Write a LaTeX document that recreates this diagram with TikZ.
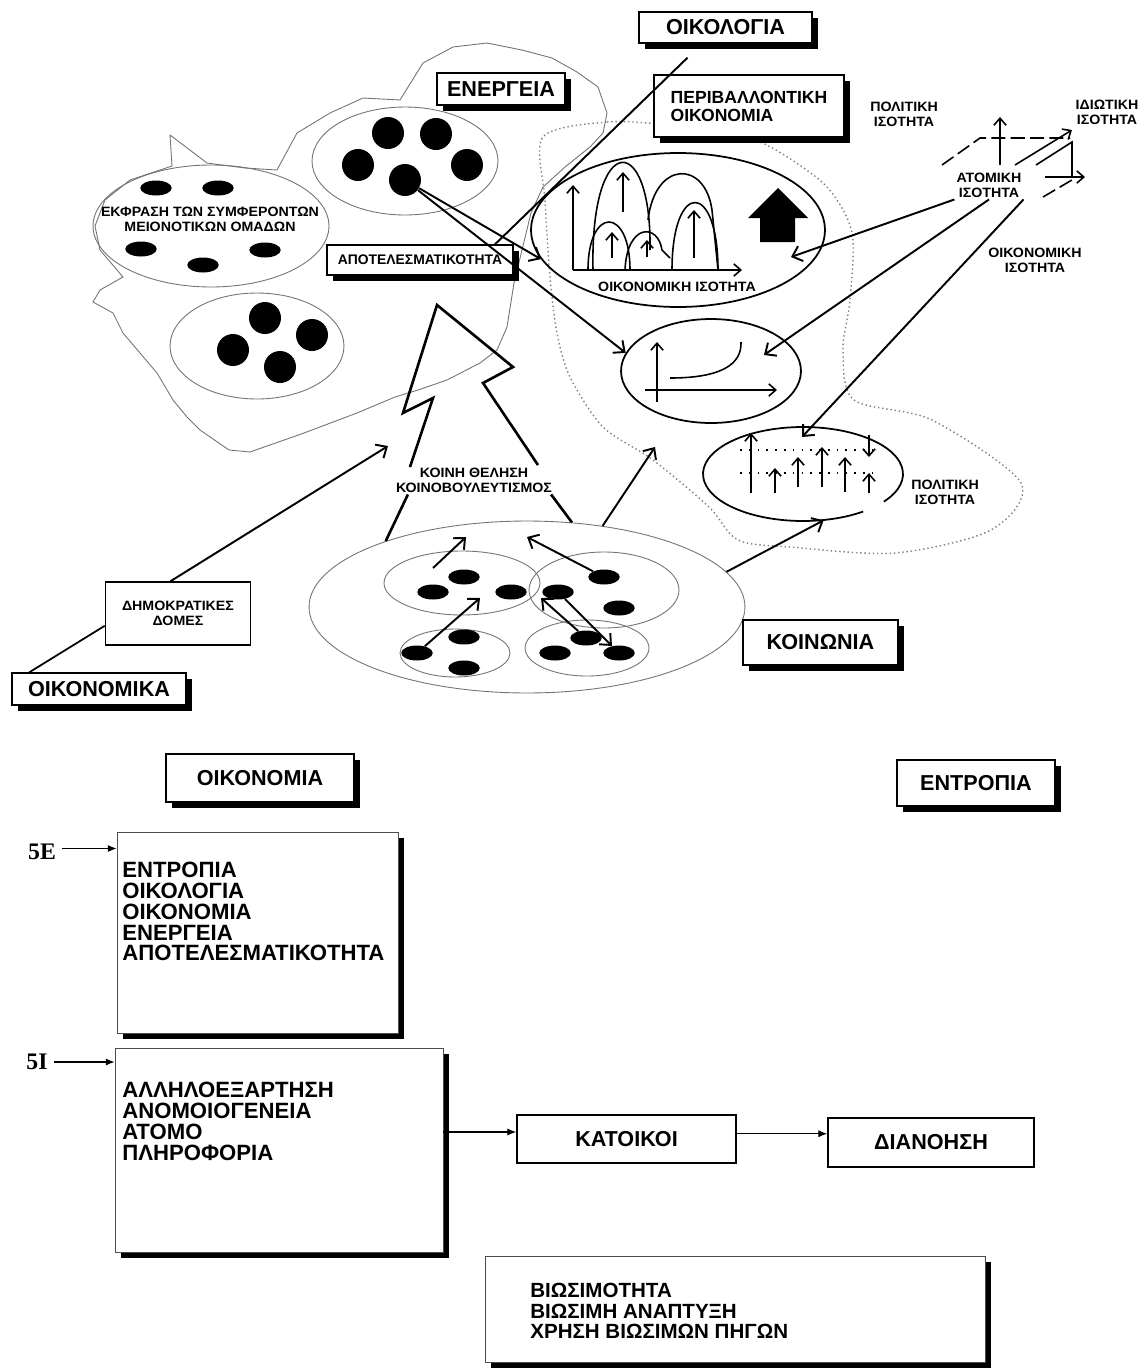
\documentclass[tikz,border=0pt]{standalone}
\usepackage{fontspec}
\setmainfont{Liberation Sans}
\newfontfamily\widefont[FakeStretch=1.05]{Liberation Sans}
\newfontfamily\labelfont{Liberation Serif}
\usetikzlibrary{shapes.geometric, shadows, arrows.meta}
\tikzset{
  shadowbox/.style={draw, line width=0.8pt, fill=white, inner sep=0pt,
    drop shadow={shadow xshift=3.2pt, shadow yshift=-3.2pt, fill=black, opacity=1}},
  plainbox/.style={draw, line width=0.9pt, fill=white, inner sep=0pt},
  listbox/.style={draw=black!70, line width=0.5pt, fill=white, inner sep=0pt,
    drop shadow={shadow xshift=3.5pt, shadow yshift=-3.5pt, fill=black, opacity=1}},
  boxtext/.style={font=\bfseries\fontsize{12.3}{14}\selectfont},
  listtext/.style={font=\bfseries\fontsize{12.6}{11.8}\selectfont, align=left, inner sep=0pt},
  smalltext/.style={font=\widefont\bfseries\fontsize{7.7}{8.6}\selectfont, align=center, inner sep=1pt},
  greyell/.style={ellipse, draw=black!55, line width=0.5pt, inner sep=0pt},
  blackell/.style={ellipse, draw, line width=1pt, inner sep=0pt},
  bigdot/.style={circle, fill, inner sep=0pt, minimum size=0.64cm},
  flatdot/.style={ellipse, fill, inner sep=0pt, minimum width=0.63cm, minimum height=0.3cm},
  thickarrow/.style={line width=1.1pt, -{Straight Barb[length=5pt, width=9pt]}},
  pictarrow/.style={line width=0.9pt, -{Straight Barb[length=4pt, width=7pt]}},
  thinarrow/.style={line width=0.6pt, -{Latex[length=5pt, width=4pt]}},
  pictline/.style={line width=0.9pt}
}

\begin{document}
\begin{tikzpicture}[x=0.02cm, y=-0.02cm]
  \fill[white] (0,0) rectangle (1143,1370);
  \useasboundingbox (0,0) rectangle (1143,1370);

  % outlines of the two regions
  \draw[black!55, line width=0.5pt] plot coordinates {(172,166) (170,135) (207,163) (245,168) (277,170)
    (297,133) (330,113) (363,98) (400,100) (423,63) (453,47) (487,43) (522,50) (552,58) (577,72)
    (598,87) (607,113) (603,133) (590,147) (565,167) (543,187) (531,213) (522,250) (514,283)
    (507,327) (497,350) (480,363) (447,380) (418,390) (395,397) (357,413) (304,433) (250,452)
    (229,450) (200,430) (187,417) (173,400) (157,373) (140,353) (123,333) (113,313) (93,302)
    (100,290) (123,277) (100,250) (95,226) (105,200) (130,180)} -- cycle;
  \draw[black!50, line width=0.8pt, dash pattern=on 0.8pt off 1.6pt] plot[smooth cycle, tension=0.5]
    coordinates {(543,137) (607,122) (670,125) (734,133) (776,150) (827,187) (852,233) (850,300)
    (843,350) (854,400) (932,420) (1021,483) (991,530) (895,553) (790,547) (738,540) (709,507)
    (653,460) (603,427) (570,377) (557,333) (550,277) (545,200)};

  % energy cluster
  \node[greyell, minimum width=3.72cm, minimum height=2.16cm] (enell) at (405,161) {};
  \node[greyell, minimum width=4.72cm, minimum height=2.44cm] (ekfell) at (211,226) {};
  \node[greyell, minimum width=3.48cm, minimum height=2.12cm] (grpell) at (257,346) {};
  \foreach \x/\y [count=\i] in {388/133, 436/134, 358/165, 467/165, 405/180}
    \node[bigdot] (en\i) at (\x,\y) {};
  \foreach \x/\y [count=\i] in {156/188, 218/188, 141/249, 265/250, 203/265}
    \node[flatdot] (ek\i) at (\x,\y) {};
  \foreach \x/\y [count=\i] in {265/318, 312/335, 233/350, 280/367}
    \node[bigdot] (gr\i) at (\x,\y) {};
  \node[smalltext] (ekftext) at (210,219) {ΕΚΦΡΑΣΗ ΤΩΝ ΣΥΜΦΕΡΟΝΤΩΝ\\ΜΕΙΟΝΟΤΙΚΩΝ ΟΜΑΔΩΝ};

  % equality ellipses
  \node[blackell, minimum width=5.88cm, minimum height=3.08cm] (econell) at (678,230) {};
  \node[blackell, minimum width=3.6cm, minimum height=2.08cm] (curveell) at (711,371) {};
  \node[ellipse, inner sep=0pt, minimum width=4cm, minimum height=1.88cm] (polell) at (803,474) {};
  \draw[line width=1pt] (polell.center) ++(-36:2cm and 0.94cm)
    arc[start angle=-36, end angle=307, x radius=2cm, y radius=0.94cm];

  \draw[pictarrow] (573,270) -- (573,185);
  \draw[pictarrow] (573,270) -- (742,270);
  \draw[pictline] (593,270) .. controls (590,130) and (652,130) .. (650,250);
  \draw[pictline] (588,270) .. controls (588,206) and (630,206) .. (630,270);
  \draw[pictline] (625,270) .. controls (627,223) and (658,223) .. (662,250) -- (670,258);
  \draw[pictline] (648,220) .. controls (655,160) and (705,160) .. (712,210) -- (718,270);
  \draw[pictline] (672,270) .. controls (672,180) and (718,180) .. (718,270);
  \draw[pictarrow] (623,212) -- (623,172);
  \draw[pictarrow] (612,258) -- (612,232);
  \draw[pictarrow] (647,257) -- (647,240);
  \draw[pictarrow] (694,258) -- (694,210);
  \fill (778,188) -- (808,218) -- (795,218) -- (795,242) -- (760,242) -- (760,218) -- (748,218) -- cycle;
  \node[smalltext] (econlab) at (677,287) {ΟΙΚΟΝΟΜΙΚΗ ΙΣΟΤΗΤΑ};

  \draw[pictarrow] (657,402) -- (657,342);
  \draw[pictarrow] (645,390) -- (777,390);
  \draw[pictline] (670,378) .. controls (720,378) and (742,365) .. (741,342);

  \draw[line width=1pt, dash pattern=on 1pt off 4pt] (740,450) -- (872,450);
  \draw[line width=1pt, dash pattern=on 1pt off 4pt] (740,473) -- (872,473);
  \foreach \x/\a/\b in {751/493/433, 775/493/468, 798/487/457, 822/487/447, 845/492/457, 869/493/473, 869/435/457}
    \draw[pictarrow] (\x,\a) -- (\x,\b);

  % individual equality axes
  \draw[pictarrow] (1000,165) -- (1000,117);
  \draw[pictline, dash pattern=on 8pt off 3pt] (942,165) -- (980,138) -- (1070,138);
  \draw[pictarrow] (1015,165) -- (1072,130);
  \draw[pictline] (1036,165) -- (1072,142) -- (1072,177);
  \draw[pictarrow] (1045,177) -- (1085,177);
  \draw[pictline, dash pattern=on 8pt off 3pt] (1043,197) -- (1077,177);

  \node[smalltext] (polittop) at (904,114) {ΠΟΛΙΤΙΚΗ\\ΙΣΟΤΗΤΑ};
  \node[smalltext] (idiotiki) at (1107,112) {ΙΔΙΩΤΙΚΗ\\ΙΣΟΤΗΤΑ};
  \node[smalltext] (atomiki) at (989,185) {ΑΤΟΜΙΚΗ\\ΙΣΟΤΗΤΑ};
  \node[smalltext] (oikisot) at (1035,260) {ΟΙΚΟΝΟΜΙΚΗ\\ΙΣΟΤΗΤΑ};
  \node[smalltext] (politlow) at (945,492) {ΠΟΛΙΤΙΚΗ\\ΙΣΟΤΗΤΑ};

  % society
  \node[greyell, minimum width=8.72cm, minimum height=3.44cm] (society) at (527,607) {};
  \node[greyell, minimum width=3.12cm, minimum height=1.28cm] (grpa) at (462,583) {};
  \node[greyell, minimum width=3.0cm, minimum height=1.52cm] (grpb) at (604,590) {};
  \node[greyell, minimum width=2.2cm, minimum height=0.96cm] (grpc) at (455,653) {};
  \node[greyell, minimum width=2.48cm, minimum height=1.12cm] (grpd) at (587,648) {};
  \foreach \x/\y [count=\i] in {464/577, 433/592, 511/592} \node[flatdot] (sa\i) at (\x,\y) {};
  \foreach \x/\y [count=\i] in {604/577, 558/592, 619/608} \node[flatdot] (sb\i) at (\x,\y) {};
  \foreach \x/\y [count=\i] in {464/637, 417/653, 464/668} \node[flatdot] (sc\i) at (\x,\y) {};
  \foreach \x/\y [count=\i] in {586/638, 555/653, 619/653} \node[flatdot] (sd\i) at (\x,\y) {};
  \node[smalltext] (koini) at (474,480) {ΚΟΙΝΗ ΘΕΛΗΣΗ\\ΚΟΙΝΟΒΟΥΛΕΥΤΙΣΜΟΣ};

  \draw[line width=1.5pt] (410,467) -- (433,398) -- (403,413) -- (437,305) -- (513,367) -- (483,383) -- (538,465);

  % boxes
  \node[shadowbox, boxtext, minimum width=3.46cm, minimum height=0.62cm] (oikologia) at (725.5,27.5) {ΟΙΚΟΛΟΓΙΑ};
  \node[shadowbox, font=\bfseries\fontsize{10}{10.2}\selectfont, align=left,
    minimum width=3.8cm, minimum height=1.24cm] (perival) at (749,106) {ΠΕΡΙΒΑΛΛΟΝΤΙΚΗ\\ΟΙΚΟΝΟΜΙΑ};
  \node[shadowbox, boxtext, minimum width=2.56cm, minimum height=0.64cm] (energeia) at (501,89) {ΕΝΕΡΓΕΙΑ};
  \node[shadowbox, font=\bfseries\fontsize{7.9}{9}\selectfont, minimum width=3.72cm,
    minimum height=0.6cm] (apotel) at (420,260) {ΑΠΟΤΕΛΕΣΜΑΤΙΚΟΤΗΤΑ};
  \node[plainbox, smalltext, minimum width=2.9cm, minimum height=1.26cm] (dimokr) at (178,613.5) {ΔΗΜΟΚΡΑΤΙΚΕΣ\\ΔΟΜΕΣ};
  \node[shadowbox, boxtext, minimum width=3.48cm, minimum height=0.64cm] (oikonomika) at (99,689) {ΟΙΚΟΝΟΜΙΚΑ};
  \node[shadowbox, boxtext, minimum width=3.1cm, minimum height=0.9cm] (koinonia) at (820.5,642.5) {ΚΟΙΝΩΝΙΑ};

  \node[shadowbox, boxtext, minimum width=3.76cm, minimum height=0.96cm] (oikonomia) at (260,778) {ΟΙΚΟΝΟΜΙΑ};
  \node[shadowbox, boxtext, minimum width=3.16cm, minimum height=0.92cm] (entropia) at (976,783) {ΕΝΤΡΟΠΙΑ};
  \node[listbox, minimum width=5.62cm, minimum height=4.02cm] (box5e) at (257.5,932.5) {};
  \node[listtext, anchor=north west] (list5e) at (122,862)
    {ΕΝΤΡΟΠΙΑ\\ΟΙΚΟΛΟΓΙΑ\\ΟΙΚΟΝΟΜΙΑ\\ΕΝΕΡΓΕΙΑ\\ΑΠΟΤΕΛΕΣΜΑΤΙΚΟΤΗΤΑ};
  \node[listbox, minimum width=6.56cm, minimum height=4.08cm] (box5i) at (279,1150) {};
  \node[listtext, anchor=north west] (list5i) at (122,1082)
    {ΑΛΛΗΛΟΕΞΑΡΤΗΣΗ\\ΑΝΟΜΟΙΟΓΕΝΕΙΑ\\ΑΤΟΜΟ\\ΠΛΗΡΟΦΟΡΙΑ};
  \node[plainbox, boxtext, minimum width=4.38cm, minimum height=0.96cm] (katoikoi) at (626.5,1139) {ΚΑΤΟΙΚΟΙ};
  \node[plainbox, boxtext, minimum width=4.12cm, minimum height=0.98cm] (dianoisi) at (931,1142.5) {ΔΙΑΝΟΗΣΗ};
  \node[listbox, minimum width=10cm, minimum height=2.12cm] (boxvios) at (735,1309) {};
  \node[listtext, font=\bfseries\fontsize{11.7}{11.6}\selectfont, anchor=north west] (listvios) at (530,1283)
    {ΒΙΩΣΙΜΟΤΗΤΑ\\ΒΙΩΣΙΜΗ ΑΝΑΠΤΥΞΗ\\ΧΡΗΣΗ ΒΙΩΣΙΜΩΝ ΠΗΓΩΝ};
  \node[font=\labelfont\bfseries\fontsize{13.5}{15}\selectfont] (lab5e) at (42,852) {5E};
  \node[font=\labelfont\bfseries\fontsize{13.5}{15}\selectfont] (lab5i) at (37,1062) {5I};

  % connectors
  \coordinate (oikfoot) at ([xshift=-0.76cm, yshift=-0.28cm]oikologia.south);
  \coordinate (apohead) at ([xshift=1.5cm]apotel.north);
  \coordinate (econin) at (791,257);
  \coordinate (curvein) at (764,355);
  \coordinate (polin) at (802,437);
  \coordinate (demohead) at (388,446);
  \coordinate (socup) at (655,447);
  \draw[line width=1.1pt] (oikfoot) -- (apohead);
  \draw[thickarrow] (en5) -- (econell.192);
  \draw[thickarrow] (en5) -- (curveell.168);
  \draw[thickarrow] (atomiki.south west) -- (econin);
  \draw[thickarrow] (atomiki.south) -- (curvein);
  \draw[thickarrow] (atomiki.south east) -- (polin);
  \draw[thickarrow] ([xshift=-0.15cm]dimokr.north) -- (demohead);
  \draw[line width=1pt] ([xshift=0.36cm]oikonomika.north west) -- ([yshift=0.4cm]dimokr.south west);
  \draw[thickarrow] (society.10) -- (polell.-66);
  \draw[thickarrow] (society.47) -- (socup);
  \draw[line width=1.5pt] ([xshift=0.28cm]koini.south west) -- (society.155);
  \draw[line width=1.5pt] ([xshift=-0.06cm]koini.south east) -- (society.62);

  \coordinate (ka1) at (433,568);
  \coordinate (kt1) at (466,537);
  \coordinate (kt2) at (527,537);
  \coordinate (kt3) at (480,598);
  \coordinate (kt4) at (541,598);
  \draw[thickarrow] (ka1) -- (kt1);
  \draw[thickarrow] (sb1) -- (kt2);
  \draw[thickarrow] (sc2) -- (kt3);
  \draw[thickarrow] (sd1) -- (kt4);
  \draw[thickarrow] (sb2) -- (sd3);

  \coordinate (p5e) at ([yshift=2pt]lab5e.east);
  \draw[thinarrow] (p5e) -- (p5e -| box5e.west);
  \coordinate (p5i) at (lab5i.east);
  \draw[thinarrow] (p5i) -- (p5i -| box5i.west);
  \coordinate (pkat) at ([yshift=4pt]katoikoi.west);
  \draw[thinarrow] (pkat -| box5i.east) -- (pkat);
  \coordinate (pdia) at ([yshift=3pt]katoikoi.east);
  \draw[thinarrow] (pdia) -- (pdia -| dianoisi.west);
\end{tikzpicture}
\end{document}
